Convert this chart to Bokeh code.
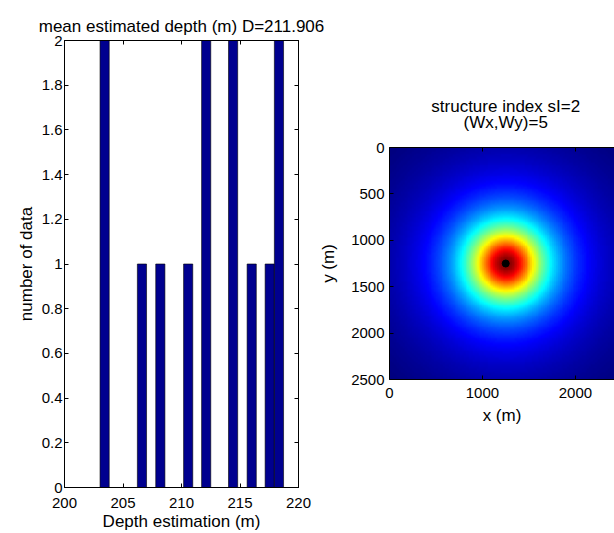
import numpy as np
from bokeh.plotting import figure
from bokeh.layouts import row, column
from bokeh.models import Range1d, FixedTicker, LinearAxis, CustomJSTickFormatter, Title
from bokeh.core.properties import value
from bokeh.embed import file_html
from bokeh.resources import INLINE

# ---------------- data ----------------
# histogram of depth estimates (bin centres, counts)
bin_centers = [203.43, 206.62, 208.19, 210.57, 212.11, 214.41, 216.00, 217.54, 218.33]
bin_counts = [2, 1, 1, 1, 2, 2, 1, 1, 2]
bin_width = 0.784
hist_xticks = [200, 205, 210, 215, 220]
hist_yticks = [0, 0.2, 0.4, 0.6, 0.8, 1.0, 1.2, 1.4, 1.6, 1.8, 2.0]
mean_depth = 211.906

# map: synthetic anomaly of a source at the centre of the grid
map_size = 2500.0
source_x = [1250.0]
source_y = [1250.0]
source_depth = 400.0
structure_index = 2
window = 5
map_xticks = [0, 1000, 2000]
map_yticks = [0, 500, 1000, 1500, 2000, 2500]

FONT = "Liberation Sans"
TICK_FS = "15px"
LABEL_FS = "17px"


def jet(n=256):
    cols = []
    for i in range(n):
        v = i / (n - 1)
        r = min(max(1.5 - abs(4 * v - 3), 0), 1)
        g = min(max(1.5 - abs(4 * v - 2), 0), 1)
        b = min(max(1.5 - abs(4 * v - 1), 0), 1)
        cols.append("#%02x%02x%02x" % (int(round(r * 255)), int(round(g * 255)), int(round(b * 255))))
    return cols


def style_axis(ax, show_labels=True):
    ax.major_tick_in = 4
    ax.major_tick_out = 0
    ax.minor_tick_line_color = None
    ax.axis_line_color = "black"
    ax.axis_line_width = 1
    ax.major_tick_line_color = "black"
    ax.major_label_text_font = FONT
    ax.major_label_text_color = "black"
    ax.major_label_text_font_size = TICK_FS
    ax.axis_label_text_font = FONT
    ax.axis_label_text_font_size = LABEL_FS
    ax.axis_label_text_font_style = "normal"
    ax.axis_label_text_color = "black"
    if show_labels:
        ax.major_label_standoff = 6
    else:
        ax.formatter = CustomJSTickFormatter(code="return '';")
        ax.major_label_standoff = 0


# ---------------- left: histogram ----------------
p1 = figure(width=330, height=533, x_range=Range1d(200, 220), y_range=Range1d(0, 2),
            output_backend="svg", toolbar_location=None, title=None,
            min_border_left=64, min_border_right=32, min_border_top=40, min_border_bottom=44)
p1.vbar(x=bin_centers, top=bin_counts, width=bin_width,
        fill_color="#00008f", line_color="black", line_width=0.6)
p1.xgrid.visible = False
p1.ygrid.visible = False
p1.outline_line_color = "black"
p1.outline_line_alpha = 1
p1.border_fill_color = "white"

p1.xaxis.ticker = FixedTicker(ticks=hist_xticks)
p1.yaxis.ticker = FixedTicker(ticks=hist_yticks)
p1.yaxis.formatter = CustomJSTickFormatter(code="return (+tick.toFixed(1)).toString();")
p1.xaxis.axis_label = "Depth estimation (m)"
p1.yaxis.axis_label = "number of data"
style_axis(p1.xaxis[0])
style_axis(p1.yaxis[0])
p1.xaxis.major_label_standoff = 10
p1.xaxis.axis_label_standoff = 1
p1.yaxis.axis_label_standoff = 3
p1.yaxis.major_label_standoff = 2
top1 = LinearAxis(ticker=FixedTicker(ticks=hist_xticks))
right1 = LinearAxis(ticker=FixedTicker(ticks=hist_yticks))
style_axis(top1, False)
style_axis(right1, False)
p1.add_layout(top1, "above")
p1.add_layout(right1, "right")
p1.add_layout(Title(text="mean estimated depth (m) D=%.3f" % mean_depth, align="center",
                    text_font=FONT, text_font_size=LABEL_FS, text_font_style="normal",
                    text_color="black", standoff=10), "above")

# ---------------- right: anomaly map ----------------
n = 126
gx = np.linspace(0, map_size, n)
gy = np.linspace(0, map_size, n)
XX, YY = np.meshgrid(gx, gy)
R2 = (XX - source_x[0]) ** 2 + (YY - source_y[0]) ** 2 + source_depth ** 2
field = 1.0 / R2 ** (structure_index / 2.0)

MAP_XR = (0, 2420)

# title strip above the map: two centred lines (y in pixels from the page top)
TITLE_H = 137
title_lines = ["structure index sI=%d" % structure_index, "(Wx,Wy)=%d" % window]
title_line_px = [106, 122]
pt = figure(width=320, height=TITLE_H, x_range=Range1d(*MAP_XR), y_range=Range1d(TITLE_H, 0),
            output_backend="svg", toolbar_location=None, title=None,
            x_axis_type=None, y_axis_type=None,
            min_border_left=77, min_border_right=0, min_border_top=0, min_border_bottom=0)
pt.margin = (0, 0, 0, -18)
pt.text(x=[map_size / 2] * len(title_lines), y=title_line_px, text=title_lines,
        text_align="center", text_baseline="middle",
        text_font=value(FONT), text_font_size=LABEL_FS, text_color="black")
pt.xgrid.visible = False
pt.ygrid.visible = False
pt.outline_line_color = None
pt.border_fill_color = None
pt.background_fill_color = None

p2 = figure(width=320, height=533 - TITLE_H, x_range=Range1d(*MAP_XR), y_range=Range1d(map_size, 0),
            output_backend="svg", toolbar_location=None, title=None,
            min_border_left=77, min_border_right=0, min_border_top=147 - TITLE_H, min_border_bottom=154)
p2.margin = (0, 0, 0, -18)
p2.image(image=[field], x=0, y=0, dw=map_size, dh=map_size, palette=jet(256))
p2.scatter(x=source_x, y=source_y, size=7, color="black")
p2.xgrid.visible = False
p2.ygrid.visible = False
p2.outline_line_color = None
p2.border_fill_color = None
p2.background_fill_color = None

p2.xaxis.ticker = FixedTicker(ticks=map_xticks)
p2.yaxis.ticker = FixedTicker(ticks=map_yticks)
p2.xaxis.axis_label = "x (m)"
p2.yaxis.axis_label = "y (m)"
style_axis(p2.xaxis[0])
style_axis(p2.yaxis[0])
p2.xaxis.major_label_standoff = 8
p2.xaxis.axis_label_standoff = 5
p2.yaxis.axis_label_standoff = 10
p2.yaxis.major_label_standoff = 5
top2 = LinearAxis(ticker=FixedTicker(ticks=map_xticks))
style_axis(top2, False)
p2.add_layout(top2, "above")

layout = row(column(p1), column(pt, p2))
open("out.html", "w").write(file_html(layout, INLINE))
